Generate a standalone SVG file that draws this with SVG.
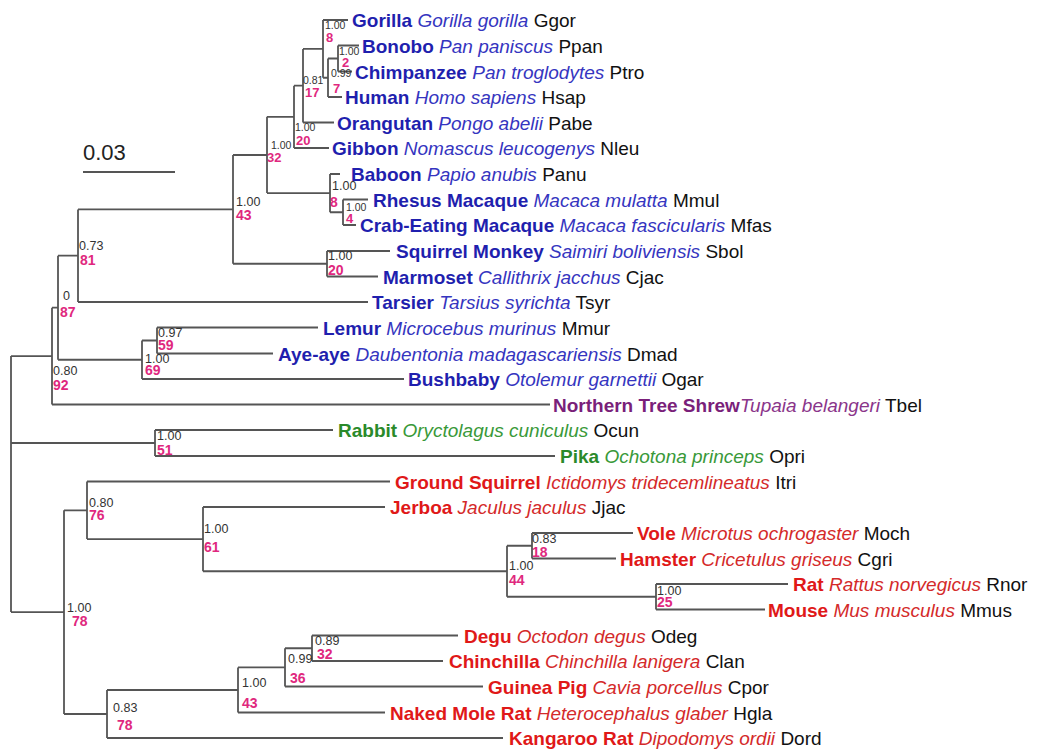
<svg xmlns="http://www.w3.org/2000/svg" width="1040" height="749" viewBox="0 0 1040 749">
<style>
text{font-family:"Liberation Sans",Arial,Helvetica,sans-serif}
.lf{font-size:19px}
.b{font-weight:bold}
.i{font-style:italic}
.pb{fill:#1f1fae}.pi{fill:#3535c0}
.tb{fill:#7a1f7a}.ti{fill:#8a358a}
.gb{fill:#2a8a2a}.gi{fill:#399939}
.rb{fill:#e01818}.ri{fill:#d42a2a}
.ab{fill:#111}
.s{font-size:12.5px;fill:#333}
.ss{font-size:10.5px;fill:#333}
.p{font-size:14px;font-weight:bold;fill:#e0287e}
.ps{font-size:13px;font-weight:bold;fill:#e0287e}
.ln{fill:none;stroke:#555;stroke-width:1.8}
</style>
<rect width="1040" height="749" fill="#fff"/>
<g id="connectors" class="ln">
<path d="M11 356.1V612.1M11 356.1H52M52 307.7V404.5M11 443H155M155 430V456M11 612.1H64M64 510.3V714"/>
<path d="M52 307.7H58M58 255.7V359.75M52 404.5H550M58 255.7H78M78 209.4V302M58 359.75H142M142 340.5V379"/>
<path d="M78 209.4H233M233 155V263.75M78 302H368M142 340.5H157M157 327.5V353.5M142 379H404M157 327.5H318M157 353.5H273"/>
<path d="M233 155H267M267 116.85V193.1M233 263.75H327M327 251V276.5M327 251H390M327 276.5H378"/>
<path d="M267 116.85H294M294 85.7V148M267 193.1H330M330 174V212.25M330 174H340M330 212.25H343M343 199.5V225M343 199.5H368M343 225H356"/>
<path d="M294 148H329M294 85.7H303M303 48.9V122.5M303 122.5H334M303 48.9H323M323 20V77.75M323 20H348M323 77.75H328M328 58.5V97M328 97H342M328 58.5H338M338 45.5V71.5M338 45.5H359M338 71.5H352"/>
<path d="M155 430H333M155 456H555"/>
<path d="M64 510.3H87M87 481.5V539.1M64 714H107M107 690V738M87 481.5H390M87 539.1H203M203 507V571.25M203 507H385M203 571.25H507M507 545.75V596.75M507 545.75H532M532 533V558.5M532 533H633M532 558.5H616M507 596.75H656M656 584V609.5M656 584H788M656 609.5H765"/>
<path d="M107 690H238M238 667.4V712.5M107 738H503M238 667.4H285M285 648.25V686.5M238 712.5H385M285 648.25H312M312 635.5V661M285 686.5H483M312 635.5H458M312 661H443"/>
</g>
<g id="scale">
<text x="83" y="160" style="font-size:22px;fill:#222">0.03</text>
<path d="M83 172H175" class="ln"/>
</g>
<g id="leaf-ggor"><text class="lf" x="352" y="27"><tspan class="b pb">Gorilla</tspan> <tspan class="i pi">Gorilla gorilla</tspan> <tspan class="ab">Ggor</tspan></text></g>
<g id="leaf-ppan"><text class="lf" x="362" y="52.5"><tspan class="b pb">Bonobo</tspan> <tspan class="i pi">Pan paniscus</tspan> <tspan class="ab">Ppan</tspan></text></g>
<g id="leaf-ptro"><text class="lf" x="355" y="78.5"><tspan class="b pb">Chimpanzee</tspan> <tspan class="i pi">Pan troglodytes</tspan> <tspan class="ab">Ptro</tspan></text></g>
<g id="leaf-hsap"><text class="lf" x="345" y="104"><tspan class="b pb">Human</tspan> <tspan class="i pi">Homo sapiens</tspan> <tspan class="ab">Hsap</tspan></text></g>
<g id="leaf-pabe"><text class="lf" x="337" y="129.5"><tspan class="b pb">Orangutan</tspan> <tspan class="i pi">Pongo abelii</tspan> <tspan class="ab">Pabe</tspan></text></g>
<g id="leaf-nleu"><text class="lf" x="332" y="155"><tspan class="b pb">Gibbon</tspan> <tspan class="i pi">Nomascus leucogenys</tspan> <tspan class="ab">Nleu</tspan></text></g>
<g id="leaf-panu"><text class="lf" x="351" y="181"><tspan class="b pb">Baboon</tspan> <tspan class="i pi">Papio anubis</tspan> <tspan class="ab">Panu</tspan></text></g>
<g id="leaf-mmul"><text class="lf" x="373" y="206.5"><tspan class="b pb">Rhesus Macaque</tspan> <tspan class="i pi">Macaca mulatta</tspan> <tspan class="ab">Mmul</tspan></text></g>
<g id="leaf-mfas"><text class="lf" x="360" y="232"><tspan class="b pb">Crab-Eating Macaque</tspan> <tspan class="i pi">Macaca fascicularis</tspan> <tspan class="ab">Mfas</tspan></text></g>
<g id="leaf-sbol"><text class="lf" x="396" y="258"><tspan class="b pb">Squirrel Monkey</tspan> <tspan class="i pi">Saimiri boliviensis</tspan> <tspan class="ab">Sbol</tspan></text></g>
<g id="leaf-cjac"><text class="lf" x="383" y="283.5"><tspan class="b pb">Marmoset</tspan> <tspan class="i pi">Callithrix jacchus</tspan> <tspan class="ab">Cjac</tspan></text></g>
<g id="leaf-tsyr"><text class="lf" x="372" y="309"><tspan class="b pb">Tarsier</tspan> <tspan class="i pi">Tarsius syrichta</tspan> <tspan class="ab">Tsyr</tspan></text></g>
<g id="leaf-mmur"><text class="lf" x="323" y="334.5"><tspan class="b pb">Lemur</tspan> <tspan class="i pi">Microcebus murinus</tspan> <tspan class="ab">Mmur</tspan></text></g>
<g id="leaf-dmad"><text class="lf" x="278" y="360.5"><tspan class="b pb">Aye-aye</tspan> <tspan class="i pi">Daubentonia madagascariensis</tspan> <tspan class="ab">Dmad</tspan></text></g>
<g id="leaf-ogar"><text class="lf" x="408" y="386"><tspan class="b pb">Bushbaby</tspan> <tspan class="i pi">Otolemur garnettii</tspan> <tspan class="ab">Ogar</tspan></text></g>
<g id="leaf-tbel"><text class="lf" x="553" y="411.5"><tspan class="b tb">Northern Tree Shrew</tspan><tspan class="i ti">Tupaia belangeri</tspan> <tspan class="ab">Tbel</tspan></text></g>
<g id="leaf-ocun"><text class="lf" x="338" y="437"><tspan class="b gb">Rabbit</tspan> <tspan class="i gi">Oryctolagus cuniculus</tspan> <tspan class="ab">Ocun</tspan></text></g>
<g id="leaf-opri"><text class="lf" x="560" y="463"><tspan class="b gb">Pika</tspan> <tspan class="i gi">Ochotona princeps</tspan> <tspan class="ab">Opri</tspan></text></g>
<g id="leaf-itri"><text class="lf" x="395" y="488.5"><tspan class="b rb">Ground Squirrel</tspan> <tspan class="i ri">Ictidomys tridecemlineatus</tspan> <tspan class="ab">Itri</tspan></text></g>
<g id="leaf-jjac"><text class="lf" x="390" y="514"><tspan class="b rb">Jerboa</tspan> <tspan class="i ri">Jaculus jaculus</tspan> <tspan class="ab">Jjac</tspan></text></g>
<g id="leaf-moch"><text class="lf" x="637" y="540"><tspan class="b rb">Vole</tspan> <tspan class="i ri">Microtus ochrogaster</tspan> <tspan class="ab">Moch</tspan></text></g>
<g id="leaf-cgri"><text class="lf" x="620" y="565.5"><tspan class="b rb">Hamster</tspan> <tspan class="i ri">Cricetulus griseus</tspan> <tspan class="ab">Cgri</tspan></text></g>
<g id="leaf-rnor"><text class="lf" x="793" y="591"><tspan class="b rb">Rat</tspan> <tspan class="i ri">Rattus norvegicus</tspan> <tspan class="ab">Rnor</tspan></text></g>
<g id="leaf-mmus"><text class="lf" x="768" y="616.5"><tspan class="b rb">Mouse</tspan> <tspan class="i ri">Mus musculus</tspan> <tspan class="ab">Mmus</tspan></text></g>
<g id="leaf-odeg"><text class="lf" x="464" y="642.5"><tspan class="b rb">Degu</tspan> <tspan class="i ri">Octodon degus</tspan> <tspan class="ab">Odeg</tspan></text></g>
<g id="leaf-clan"><text class="lf" x="449" y="668"><tspan class="b rb">Chinchilla</tspan> <tspan class="i ri">Chinchilla lanigera</tspan> <tspan class="ab">Clan</tspan></text></g>
<g id="leaf-cpor"><text class="lf" x="488" y="693.5"><tspan class="b rb">Guinea Pig</tspan> <tspan class="i ri">Cavia porcellus</tspan> <tspan class="ab">Cpor</tspan></text></g>
<g id="leaf-hgla"><text class="lf" x="390" y="719.5"><tspan class="b rb">Naked Mole Rat</tspan> <tspan class="i ri">Heterocephalus glaber</tspan> <tspan class="ab">Hgla</tspan></text></g>
<g id="leaf-dord"><text class="lf" x="509" y="745"><tspan class="b rb">Kangaroo Rat</tspan> <tspan class="i ri">Dipodomys ordii</tspan> <tspan class="ab">Dord</tspan></text></g>
<g id="node-8a"><text class="ss" x="325" y="29">1.00</text><text class="ps" x="326" y="42">8</text></g>
<g id="node-2"><text class="ss" x="339" y="55">1.00</text><text class="ps" x="342" y="67">2</text></g>
<g id="node-7"><text class="ss" x="331" y="77">0.99</text><text class="ps" x="333" y="93">7</text></g>
<g id="node-17"><text class="ss" x="303" y="84">0.81</text><text class="ps" x="305" y="97">17</text></g>
<g id="node-20a"><text class="ss" x="295" y="131">1.00</text><text class="ps" x="296" y="145">20</text></g>
<g id="node-32a"><text class="ss" x="271" y="149">1.00</text><text class="ps" x="267" y="162">32</text></g>
<g id="node-43a"><text class="s" x="236" y="206">1.00</text><text class="p" x="236" y="220">43</text></g>
<g id="node-8b"><text class="s" x="332" y="190">1.00</text><text class="p" x="330" y="207">8</text></g>
<g id="node-4"><text class="ss" x="346" y="211">1.00</text><text class="ps" x="346" y="223">4</text></g>
<g id="node-20b"><text class="s" x="328" y="260">1.00</text><text class="p" x="328" y="275">20</text></g>
<g id="node-81"><text class="s" x="79" y="250">0.73</text><text class="p" x="80" y="265">81</text></g>
<g id="node-87"><text class="s" x="63" y="300">0</text><text class="p" x="60" y="317">87</text></g>
<g id="node-59"><text class="s" x="158" y="337">0.97</text><text class="p" x="158" y="350">59</text></g>
<g id="node-69"><text class="s" x="145" y="363">1.00</text><text class="p" x="145" y="375">69</text></g>
<g id="node-92"><text class="s" x="53" y="375">0.80</text><text class="p" x="53" y="390">92</text></g>
<g id="node-51"><text class="s" x="157" y="440">1.00</text><text class="p" x="157" y="455">51</text></g>
<g id="node-76"><text class="s" x="89" y="507">0.80</text><text class="p" x="89" y="520">76</text></g>
<g id="node-61"><text class="s" x="204" y="533">1.00</text><text class="p" x="204" y="552">61</text></g>
<g id="node-18"><text class="s" x="532" y="543">0.83</text><text class="p" x="532" y="557">18</text></g>
<g id="node-44"><text class="s" x="509" y="570">1.00</text><text class="p" x="509" y="585">44</text></g>
<g id="node-25"><text class="s" x="657" y="595">1.00</text><text class="p" x="657" y="607">25</text></g>
<g id="node-78a"><text class="s" x="67" y="612">1.00</text><text class="p" x="72" y="626">78</text></g>
<g id="node-32b"><text class="s" x="315" y="645">0.89</text><text class="p" x="317" y="659">32</text></g>
<g id="node-36"><text class="s" x="288" y="663">0.99</text><text class="p" x="290" y="683">36</text></g>
<g id="node-43b"><text class="s" x="242" y="687">1.00</text><text class="p" x="242" y="708">43</text></g>
<g id="node-78b"><text class="s" x="113" y="712">0.83</text><text class="p" x="117" y="730">78</text></g>
</svg>
